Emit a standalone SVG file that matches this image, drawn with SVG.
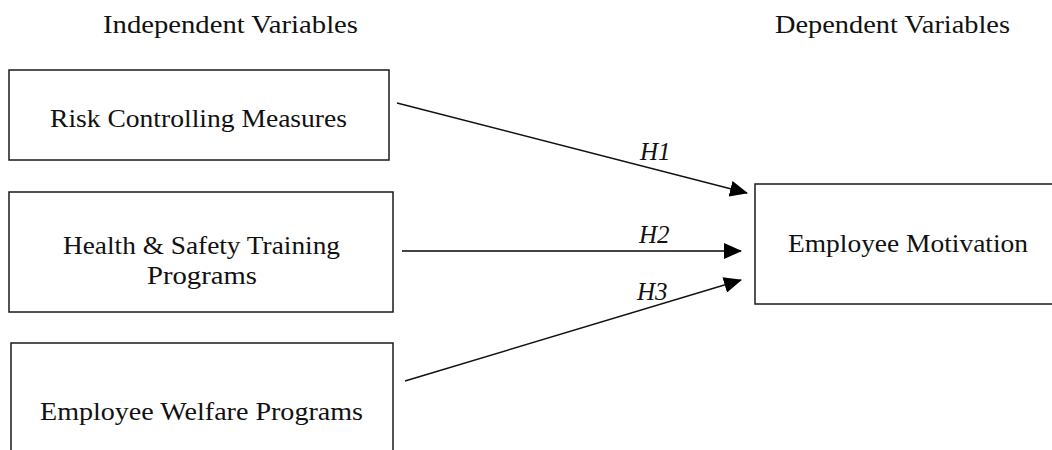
<svg xmlns="http://www.w3.org/2000/svg" width="1052" height="450" viewBox="0 0 1052 450">
<style>
  .box { fill: #ffffff; stroke: #1a1a1a; stroke-width: 1.5; }
  .lbl { font-family: "Liberation Serif", "DejaVu Serif", serif; font-size: 25px; fill: #111111; }
  .hyp { font-family: "Liberation Serif", "DejaVu Serif", serif; font-size: 25px; font-style: italic; fill: #111111; }
  .edge { stroke: #111111; stroke-width: 1.4; fill: none; marker-end: url(#arrow); }
  .edge2 { stroke: #444444; stroke-width: 2.2; fill: none; marker-end: url(#arrow); }
</style>
<defs>
  <marker id="arrow" markerUnits="userSpaceOnUse" markerWidth="18" markerHeight="16" viewBox="0 0 18 16" refX="17" refY="8" orient="auto">
    <path d="M0,0 L18,8 L0,16 Z" fill="#000000"/>
  </marker>
</defs>
<rect width="1052" height="450" fill="#ffffff"/>
<g id="headers">
  <text class="lbl" x="103" y="33" textLength="255" lengthAdjust="spacingAndGlyphs">Independent Variables</text>
  <text class="lbl" x="775" y="33" textLength="235" lengthAdjust="spacingAndGlyphs">Dependent Variables</text>
</g>
<g id="node-risk">
  <rect class="box" x="9" y="70" width="380" height="90"/>
  <text class="lbl" x="50" y="127" textLength="297" lengthAdjust="spacingAndGlyphs">Risk Controlling Measures</text>
</g>
<g id="node-health">
  <rect class="box" x="9" y="192" width="384" height="120"/>
  <text class="lbl" x="63" y="254" textLength="277" lengthAdjust="spacingAndGlyphs">Health &amp; Safety Training</text>
  <text class="lbl" x="147" y="284" textLength="110" lengthAdjust="spacingAndGlyphs">Programs</text>
</g>
<g id="node-welfare">
  <rect class="box" x="11" y="343" width="382" height="130"/>
  <text class="lbl" x="40" y="420" textLength="323" lengthAdjust="spacingAndGlyphs">Employee Welfare Programs</text>
</g>
<g id="node-motivation">
  <rect class="box" x="755" y="184" width="320" height="120"/>
  <text class="lbl" x="788" y="252" textLength="240" lengthAdjust="spacingAndGlyphs">Employee Motivation</text>
</g>
<g id="connectors">
  <line class="edge" x1="397" y1="103" x2="747" y2="193"/>
  <line class="edge2" x1="402" y1="251" x2="741" y2="251"/>
  <line class="edge" x1="405" y1="381" x2="741" y2="280"/>
  <text class="hyp" x="640" y="160">H1</text>
  <text class="hyp" x="639" y="243">H2</text>
  <text class="hyp" x="637" y="300">H3</text>
</g>
</svg>
